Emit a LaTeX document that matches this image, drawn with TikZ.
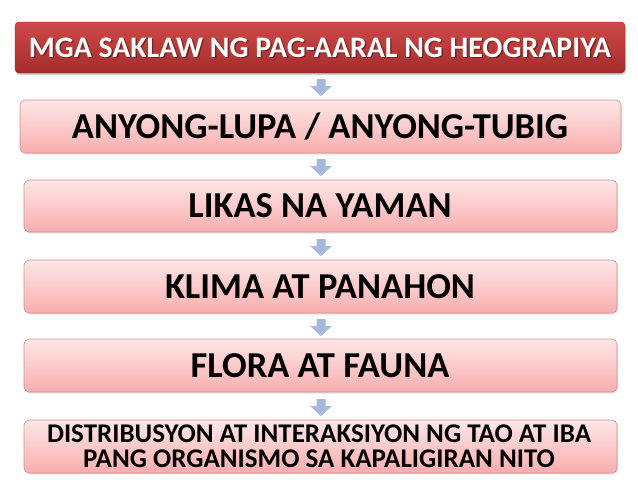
\documentclass[tikz,border=0pt]{standalone}
\usepackage{fontspec}
\setmainfont{Carlito}
\usetikzlibrary{shadows}
\definecolor{topA}{HTML}{CD4A48}
\definecolor{topB}{HTML}{A42C2C}
\definecolor{pinkA}{HTML}{FDE6E6}
\definecolor{pinkB}{HTML}{F9AEAE}
\definecolor{pinkLine}{HTML}{D58C8C}
\definecolor{arrowBlue}{HTML}{A5B9D8}
\tikzset{
  headbox/.style={rounded corners=4pt, top color=topA, bottom color=topB, draw=topB!80!black, line width=0.4pt,
    drop shadow={shadow xshift=1pt, shadow yshift=-2pt, opacity=0.35}},
  itembox/.style={rounded corners=5pt, top color=pinkA, bottom color=pinkB, draw=pinkLine, line width=0.6pt,
    drop shadow={shadow xshift=1pt, shadow yshift=-1.5pt, opacity=0.2}},
  label/.style={text=black, align=center},
  bigtext/.style={label, font=\bfseries\fontsize{36.5}{40}\selectfont},
  downarrow/.style={fill=arrowBlue, draw=none}
}
\begin{document}
\begin{tikzpicture}[x=1pt,y=-1pt]
\useasboundingbox[fill=white] (0,0) rectangle (638,491);
% boxes
\path[headbox] (15,22) rectangle (625,73);
\path[itembox] (20,100) rectangle (621,153);
\path[itembox] (24,180) rectangle (617,232);
\path[itembox] (24,260) rectangle (617,313);
\path[itembox] (24,339) rectangle (617,392);
\path[itembox] (24,420) rectangle (617,473);
% texts
\node[label, text=black, opacity=0.35, font=\bfseries\fontsize{29.8}{33}\selectfont] at (321.5,49) {MGA SAKLAW NG PAG-AARAL NG HEOGRAPIYA};
\node[label, text=white, font=\bfseries\fontsize{29.8}{33}\selectfont] (t1) at (320,47.5) {MGA SAKLAW NG PAG-AARAL NG HEOGRAPIYA};
\node[bigtext] (t2) at (320,126.5) {ANYONG-LUPA / ANYONG-TUBIG};
\node[bigtext] (t3) at (320,206) {LIKAS NA YAMAN};
\node[bigtext] (t4) at (320,286.5) {KLIMA AT PANAHON};
\node[bigtext] (t5) at (320,365.5) {FLORA AT FAUNA};
\node[label, font=\bfseries\fontsize{27}{25}\selectfont] (t6) at (319,446.5) {DISTRIBUSYON AT INTERAKSIYON NG TAO AT IBA\\PANG ORGANISMO SA KAPALIGIRAN NITO};
% arrows
\foreach \y in {77,157,237,317,397}{
  \fill[downarrow] (316.5,\y+2) -- (325.5,\y+2) -- (325.5,\y+9) -- (332,\y+9) -- (321,\y+19) -- (310,\y+9) -- (316.5,\y+9) -- cycle;
}
\end{tikzpicture}
\end{document}
